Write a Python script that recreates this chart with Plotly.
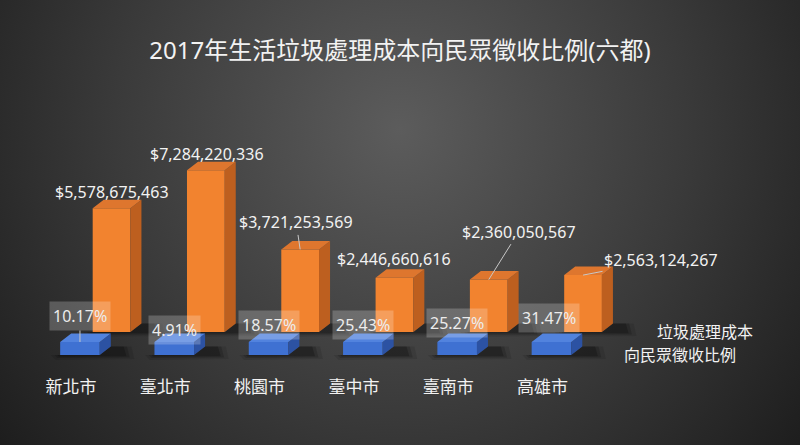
import base64
import plotly.graph_objects as go

# data
cities = ["新北市", "臺北市", "桃園市", "臺中市", "臺南市", "高雄市"]
cost = [5578675463, 7284220336, 3721253569, 2446660616, 2360050567, 2563124267]
share_pct = [10.17, 4.91, 18.57, 25.43, 25.27, 31.47]
series_names = ["垃圾處理成本", "向民眾徵收比例"]
title_text = "2017年生活垃圾處理成本向民眾徵收比例(六都)"

# fake 3d look
PX = 22.2 / 1e9          # pixels per dollar
DX = 0.117               # depth, x units
DY = 8.5 / PX            # depth, y units
O_OFF, O_W = 0.43, 0.40  # back row (orange)
B_OFF, B_W = 0.095, 0.42  # front row (blue)
SLAB = 13 / PX

ORANGE = dict(front="#F2832F", top="#DE762E", side="#BD5F1F")
BLUE = dict(front="#3F71D2", top="#5283DE", side="#2C52A3")
FONT = "Noto Sans, Noto Sans CJK TC, sans-serif"

# label offsets (pixels), leader line or not
o_ax = [0, 1, -4, 0, 30, 78]
o_ay = [-16, -16, -27, -19, -48, -15]
o_leader = [False, False, True, False, True, True]
b_ax = [0, 0, 0, 0, 0, -2]
b_ay = [-26, -12, -17, -17, -19, -24]
b_leader = [True, False, False, False, False, False]


def faces(centers, width, bottoms, tops):
    top_x, top_y, side_x, side_y = [], [], [], []
    for c, b, t in zip(centers, bottoms, tops):
        xl, xr = c - width / 2, c + width / 2
        top_x += [xl, xl + DX, xr + DX, xr, xl, None]
        top_y += [t, t + DY, t + DY, t, t, None]
        side_x += [xr, xr + DX, xr + DX, xr, xr, None]
        side_y += [b, b + DY, t + DY, t, b, None]
    return top_x, top_y, side_x, side_y


def shadow(centers, width, level, yaxis):
    # dark smear under the box and right of its side face, never over the faces
    traces = []
    for grow, alpha in [(1.0, 0.10), (0.6, 0.16), (0.3, 0.22)]:
        xs, ys = [], []
        for c in centers:
            xl, xr = c - width / 2, c + width / 2
            far = xr + DX + 0.10 + 0.12 * grow
            xs += [xl - 0.10 * grow, xr, xr + DX, far, far + 0.03, xl - 0.05 * grow,
                   xl - 0.10 * grow, None]
            ys += [level, level, level + DY, level + DY, level - 4 * grow / PX,
                   level - 5 * grow / PX, level, None]
        traces.append(go.Scatter(x=xs, y=ys, yaxis=yaxis, fill="toself", mode="none",
                                 fillcolor="rgba(0,0,0,{})".format(alpha),
                                 hoverinfo="skip", showlegend=False))
    return traces


idx = list(range(len(cities)))
o_x = [i + O_OFF for i in idx]
b_x = [i + B_OFF for i in idx]

fig = go.Figure()

# back row: cost
fig.add_traces(shadow(o_x, O_W, 0, "y"))
tx, ty, sx, sy = faces(o_x, O_W, [0] * len(cost), cost)
fig.add_trace(go.Scatter(x=sx, y=sy, fill="toself", mode="none", fillcolor=ORANGE["side"],
                         hoverinfo="skip", showlegend=False))
fig.add_trace(go.Scatter(x=tx, y=ty, fill="toself", mode="none", fillcolor=ORANGE["top"],
                         hoverinfo="skip", showlegend=False))
fig.add_trace(go.Bar(x=o_x, y=cost, width=O_W, marker_color=ORANGE["front"],
                     marker_line_width=0, name=series_names[0], showlegend=False))

# front row: share (flat on the cost scale, so only the slab shows)
b_tops = [s for s in share_pct]
fig.add_traces(shadow(b_x, B_W, -SLAB, "y2"))
tx, ty, sx, sy = faces(b_x, B_W, [-SLAB] * len(share_pct), b_tops)
fig.add_trace(go.Scatter(x=sx, y=sy, yaxis="y2", fill="toself", mode="none",
                         fillcolor=BLUE["side"], hoverinfo="skip", showlegend=False))
fig.add_trace(go.Scatter(x=tx, y=ty, yaxis="y2", fill="toself", mode="none",
                         fillcolor=BLUE["top"], hoverinfo="skip", showlegend=False))
fig.add_trace(go.Bar(x=b_x, y=[SLAB + s for s in share_pct], base=-SLAB, width=B_W,
                     yaxis="y2", marker_color=BLUE["front"], marker_line_width=0,
                     name=series_names[1], showlegend=False))

annotations = []
for i in idx:
    annotations.append(dict(
        x=o_x[i], y=cost[i], xref="x", yref="y",
        text="${:,}".format(cost[i]), showarrow=True, ax=o_ax[i], ay=o_ay[i],
        arrowhead=0, arrowwidth=1, standoff=0,
        arrowcolor="#c8c8c8" if o_leader[i] else "rgba(0,0,0,0)",
        font=dict(family=FONT, size=16, color="#f2f2f2")))
    annotations.append(dict(
        x=b_x[i], y=0, xref="x", yref="y2",
        text="{:.2f}%".format(share_pct[i]), showarrow=True, ax=b_ax[i], ay=b_ay[i],
        arrowhead=0, arrowwidth=1, standoff=0,
        arrowcolor="#c8c8c8" if b_leader[i] else "rgba(0,0,0,0)",
        bgcolor="rgba(255,255,255,0.22)", borderpad=3,
        font=dict(family=FONT, size=16, color="#ececec")))

# legend text (no keys in the original)
annotations.append(dict(x=705 / 800, y=1 - 332 / 445, xref="paper", yref="paper",
                        xanchor="center", yanchor="middle",
                        text=series_names[0], showarrow=False,
                        font=dict(family=FONT, size=16, color="#f2f2f2")))
annotations.append(dict(x=680 / 800, y=1 - 355 / 445, xref="paper", yref="paper",
                        xanchor="center", yanchor="middle",
                        text=series_names[1], showarrow=False,
                        font=dict(family=FONT, size=16, color="#f2f2f2")))

bg_svg = (
    '<svg xmlns="http://www.w3.org/2000/svg" width="800" height="445">'
    '<defs><radialGradient id="g" cx="400" cy="130" r="520" gradientUnits="userSpaceOnUse">'
    '<stop offset="0" stop-color="#5c5c5c"/><stop offset="0.55" stop-color="#3a3a3a"/>'
    '<stop offset="1" stop-color="#1c1c1c"/></radialGradient></defs>'
    '<rect width="800" height="445" fill="url(#g)"/></svg>'
)
bg_src = "data:image/svg+xml;base64," + base64.b64encode(bg_svg.encode()).decode()

plot_bottom = 375  # px from top
y_dom = [(445 - plot_bottom) / 445, 1]

fig.update_layout(
    width=800, height=445,
    margin=dict(l=0, r=0, t=0, b=0),
    paper_bgcolor="#2a2a2a", plot_bgcolor="rgba(0,0,0,0)",
    barmode="overlay",
    showlegend=False,
    title=dict(text=title_text, x=0.5, xanchor="center", y=1 - 51 / 445, yanchor="middle",
               font=dict(family=FONT, size=24, color="#f2f2f2")),
    xaxis=dict(range=[-71 / 94.3, (800 - 71) / 94.3], tickvals=idx, ticktext=cities,
               showgrid=False, zeroline=False, showline=False, ticks="",
               tickfont=dict(family=FONT, size=17, color="#f2f2f2")),
    yaxis=dict(domain=y_dom, range=[-(plot_bottom - 332) / PX, 332 / PX], visible=False,
               showgrid=False, zeroline=False),
    yaxis2=dict(domain=y_dom, overlaying="y", range=[-(plot_bottom - 342) / PX, 342 / PX],
                visible=False, showgrid=False, zeroline=False),
    annotations=annotations,
    images=[dict(source=bg_src, xref="paper", yref="paper", x=0, y=1, sizex=1, sizey=1,
                 xanchor="left", yanchor="top", sizing="stretch", layer="below")],
    font=dict(family=FONT),
)

fig.write_html("out.html", config={"displayModeBar": False},
               post_script="document.body.style.margin = '0';")
